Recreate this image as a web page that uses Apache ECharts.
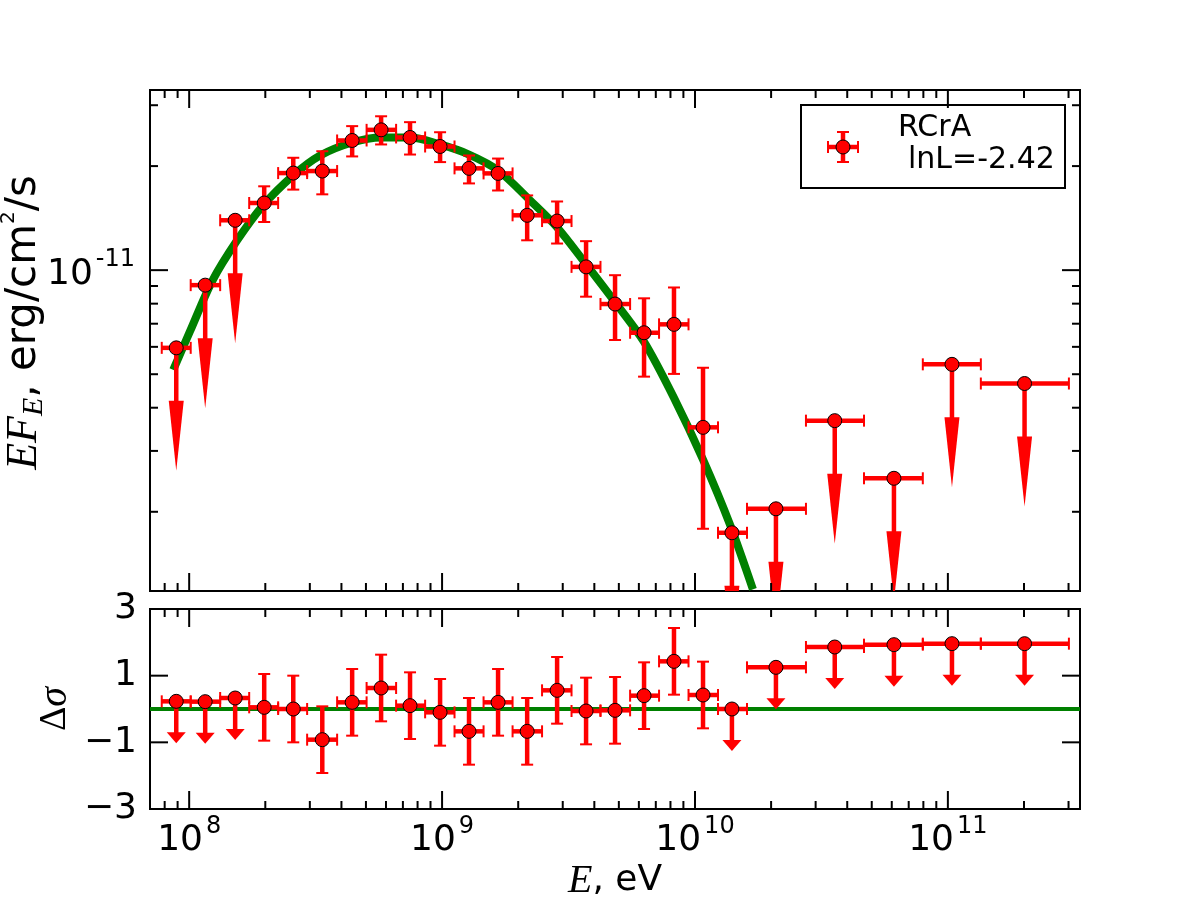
<!DOCTYPE html>
<html>
<head>
<meta charset="utf-8">
<title>RCrA spectrum</title>
<script src="https://cdn.jsdelivr.net/npm/echarts@6.0.0/dist/echarts.min.js"></script>
<style>
  html, body { margin: 0; padding: 0; background: #fff; }
  #chart { width: 1200px; height: 900px; }
</style>
</head>
<body>
<div id="chart"></div>
<script>
// energy bins, eV
const energy   = [8.89e7, 1.157e8, 1.52e8, 1.98e8, 2.58e8, 3.36e8, 4.41e8, 5.74e8, 7.47e8, 9.82e8,
                  1.278e9, 1.665e9, 2.17e9, 2.85e9, 3.71e9, 4.83e9, 6.29e9, 8.26e9, 1.076e10, 1.40e10,
                  2.09e10, 3.57e10, 6.12e10, 1.038e11, 2.01e11];
const energyLo = [7.79e7, 1.014e8, 1.326e8, 1.727e8, 2.248e8, 2.927e8, 3.846e8, 5.03e8, 6.58e8, 8.57e8,
                  1.12e9, 1.459e9, 1.90e9, 2.485e9, 3.25e9, 4.23e9, 5.54e9, 7.21e9, 9.43e9, 1.233e10,
                  1.606e10, 2.747e10, 4.66e10, 7.96e10, 1.35e11];
const energyHi = [1.014e8, 1.326e8, 1.727e8, 2.248e8, 2.927e8, 3.846e8, 5.03e8, 6.58e8, 8.57e8, 1.12e9,
                  1.459e9, 1.90e9, 2.485e9, 3.25e9, 4.23e9, 5.54e9, 7.21e9, 9.43e9, 1.233e10, 1.606e10,
                  2.747e10, 4.66e10, 7.96e10, 1.35e11, 3.01e11];

// E*F_E, erg/cm2/s  (null error = upper limit)
const flux   = [5.96e-12, 9.05e-12, 1.394e-11, 1.564e-11, 1.909e-11, 1.935e-11, 2.372e-11, 2.546e-11, 2.42e-11, 2.279e-11,
                1.97e-11, 1.905e-11, 1.441e-11, 1.387e-11, 1.022e-11, 7.98e-12, 6.59e-12, 6.97e-12, 3.51e-12, 1.739e-12,
                2.04e-12, 3.67e-12, 2.50e-12, 5.34e-12, 4.70e-12];
const fluxLo = [null, null, null, 1.378e-11, 1.71e-11, 1.657e-11, 2.133e-11, 2.31e-11, 2.16e-11, 2.054e-11,
                1.782e-11, 1.70e-11, 1.22e-11, 1.194e-11, 8.38e-12, 6.28e-12, 4.92e-12, 5.01e-12, 1.786e-12, null,
                null, null, null, null, null];
const fluxHi = [null, null, null, 1.748e-11, 2.114e-11, 2.208e-11, 2.61e-11, 2.787e-11, 2.68e-11, 2.506e-11,
                2.146e-11, 2.103e-11, 1.645e-11, 1.58e-11, 1.213e-11, 9.67e-12, 8.29e-12, 8.91e-12, 5.22e-12, null,
                null, null, null, null, null];
const upperLimit = [1, 1, 1, 0, 0, 0, 0, 0, 0, 0, 0, 0, 0, 0, 0, 0, 0, 0, 0, 1, 1, 1, 1, 1, 1];

// residuals, sigma
const resid    = [0.23, 0.22, 0.33, 0.05, 0.0, -0.92, 0.20, 0.63, 0.10, -0.10,
                  -0.67, 0.20, -0.67, 0.56, -0.06, -0.04, 0.40, 1.43, 0.42, 0.0,
                  1.25, 1.86, 1.93, 1.96, 1.96];
const residErr = [1, 1, 1, 1, 1, 1, 1, 1, 1, 1, 1, 1, 1, 1, 1, 1, 1, 1, 1, 1, 1, 1, 1, 1, 1];

// model curve
const modelE = [8.65e7, 1.009e8, 1.233e8, 1.548e8, 1.961e8, 2.577e8, 3.295e8, 4.41e8, 5.74e8, 7.47e8, 9.82e8,
                1.278e9, 1.665e9, 2.228e9, 2.85e9, 3.71e9, 4.83e9, 6.29e9, 8.26e9, 1.076e10, 1.375e10, 1.695e10];
const modelF = [5.15e-12, 6.67e-12, 9.30e-12, 1.22e-11, 1.54e-11, 1.879e-11, 2.146e-11, 2.34e-11, 2.42e-11, 2.42e-11, 2.31e-11,
                2.16e-11, 1.944e-11, 1.592e-11, 1.33e-11, 1.04e-11, 8.08e-12, 6.20e-12, 4.27e-12, 2.83e-12, 1.837e-12, 1.193e-12];

// axis ranges and ticks
const xMin = 7.0e7, xMax = 3.33e11;
const yMin = 1.18e-12, yMax = 3.32e-11;
const decadesX = [7, 8, 9, 10, 11];
const decadesY = [-12, -11];
const tickSteps = [1, 2, 3, 4, 5, 6, 7, 8, 9];
const residTicks = [-1, 1];

const RED = '#ff0000';
const GREEN = '#008000';
const SANS = '"DejaVu Sans", sans-serif';
const SERIF = '"Liberation Serif", "DejaVu Serif", serif';

function logTicks(decades, lo, hi) {
  const out = [];
  decades.forEach(d => tickSteps.forEach(m => {
    const v = m * Math.pow(10, d);
    if (v > lo * 1.001 && v < hi * 0.999) out.push([v, m === 1 ? 1 : 0]);
  }));
  return out;
}

function tickLine(x1, y1, x2, y2) {
  return { type: 'line', shape: { x1, y1, x2, y2 }, style: { stroke: '#000', lineWidth: 2 } };
}

function xTickItem(params, api) {
  const cs = params.coordSys;
  const x = api.coord([api.value(0), api.value(1)])[0];
  const len = api.value(2) ? 18 : 8;
  return { type: 'group', children: [
    tickLine(x, cs.y + cs.height, x, cs.y + cs.height - len),
    tickLine(x, cs.y, x, cs.y + len)
  ] };
}

function yTickItem(params, api) {
  const cs = params.coordSys;
  const y = api.coord([api.value(0), api.value(1)])[1];
  const len = api.value(2) ? 18 : 8;
  return { type: 'group', children: [
    tickLine(cs.x, y, cs.x + len, y),
    tickLine(cs.x + cs.width, y, cs.x + cs.width - len, y)
  ] };
}

function seg(x1, y1, x2, y2, w) {
  return { type: 'line', shape: { x1, y1, x2, y2 }, style: { stroke: RED, lineWidth: w } };
}

// error bars + upper-limit arrows; arrow = pixel sizes of the head
function errorBars(arrow) {
  return function (params, api) {
    const yv = api.value(1);
    const p = api.coord([api.value(0), yv]);
    const xl = api.coord([api.value(2), yv])[0];
    const xh = api.coord([api.value(3), yv])[0];
    const kids = [
      seg(xl, p[1], xh, p[1], 4.5),
      seg(xl, p[1] - 6, xl, p[1] + 6, 2),
      seg(xh, p[1] - 6, xh, p[1] + 6, 2)
    ];
    if (api.value(6)) {
      kids.push(seg(p[0], p[1], p[0], p[1] + arrow.head + 1, 4.5));
      kids.push({ type: 'polygon', shape: { points: [
        [p[0] - arrow.w / 2, p[1] + arrow.head],
        [p[0] + arrow.w / 2, p[1] + arrow.head],
        [p[0], p[1] + arrow.tip]
      ] }, style: { fill: RED } });
    } else {
      const yl = api.coord([api.value(0), api.value(4)])[1];
      const yh = api.coord([api.value(0), api.value(5)])[1];
      kids.push(seg(p[0], yl, p[0], yh, 4.5));
      kids.push(seg(p[0] - 6, yl, p[0] + 6, yl, 2));
      kids.push(seg(p[0] - 6, yh, p[0] + 6, yh, 2));
    }
    return { type: 'group', children: kids };
  };
}

function powLabel(v) {
  const l = Math.log10(v);
  const e = Math.round(l);
  if (Math.abs(l - e) > 1e-6) return '';
  return '{b|10}{s|' + e + '}';
}

const labelRich = {
  b: { fontFamily: SANS, fontSize: 36, lineHeight: 44, verticalAlign: 'bottom', color: '#000' },
  s: { fontFamily: SANS, fontSize: 24, lineHeight: 20, verticalAlign: 'top', color: '#000', padding: [0, 0, 0, 3] }
};

const topTable = energy.map((e, i) => [e, flux[i], energyLo[i], energyHi[i],
  fluxLo[i] == null ? flux[i] : fluxLo[i], fluxHi[i] == null ? flux[i] : fluxHi[i], upperLimit[i]]);
const botTable = energy.map((e, i) => [e, resid[i], energyLo[i], energyHi[i],
  resid[i] - residErr[i], resid[i] + residErr[i], upperLimit[i]]);

const xTicks = logTicks(decadesX, xMin, xMax);
const yTicks = logTicks(decadesY, yMin, yMax);

const chart = echarts.init(document.getElementById('chart'), null, { renderer: 'canvas' });

chart.setOption({
  animation: false,
  backgroundColor: '#fff',
  grid: [
    { left: 150, top: 90, width: 930, height: 501, show: true, borderColor: '#000', borderWidth: 2, outerBoundsMode: 'none' },
    { left: 150, top: 609, width: 930, height: 200, show: true, borderColor: '#000', borderWidth: 2, outerBoundsMode: 'none' }
  ],
  xAxis: [
    { type: 'log', gridIndex: 0, min: xMin, max: xMax,
      axisLine: { show: false }, axisTick: { show: false }, axisLabel: { show: false }, splitLine: { show: false } },
    { type: 'log', gridIndex: 1, min: xMin, max: xMax,
      axisLine: { show: false }, axisTick: { show: false }, splitLine: { show: false },
      axisLabel: { margin: 6, formatter: powLabel, rich: labelRich },
      name: '{i|E}{t|, eV}', nameLocation: 'middle', nameGap: 50, nameMoveOverlap: false,
      nameTextStyle: { rich: {
        i: { fontFamily: SERIF, fontStyle: 'italic', fontSize: 40, lineHeight: 44, color: '#000' },
        t: { fontFamily: SANS, fontSize: 36, lineHeight: 44, color: '#000' }
      } } }
  ],
  yAxis: [
    { type: 'log', gridIndex: 0, min: yMin, max: yMax,
      axisLine: { show: false }, axisTick: { show: false }, splitLine: { show: false },
      axisLabel: { margin: 15, formatter: powLabel, rich: labelRich },
      name: '{i|EF}{sub|E}{t|, erg/cm}{sup|2}{t|/s}', nameLocation: 'middle', nameGap: 101, nameRotate: 90,
      nameMoveOverlap: false,
      nameTextStyle: { padding: [0, 0, 0, 36], rich: {
        i: { fontFamily: SERIF, fontStyle: 'italic', fontSize: 44, lineHeight: 50, color: '#000' },
        sub: { fontFamily: SERIF, fontStyle: 'italic', fontSize: 30, lineHeight: 34, verticalAlign: 'bottom', color: '#000' },
        t: { fontFamily: SANS, fontSize: 42, lineHeight: 50, color: '#000' },
        sup: { fontFamily: SANS, fontSize: 20, lineHeight: 26, verticalAlign: 'top', color: '#000' }
      } } },
    { type: 'value', gridIndex: 1, min: -3, max: 3, interval: 1,
      axisLine: { show: false }, axisTick: { show: false }, splitLine: { show: false },
      axisLabel: { margin: 13, fontFamily: SANS, fontSize: 36, color: '#000',
        formatter: v => (Math.abs(v) % 2 === 1 ? (v < 0 ? '\u2212' + (-v) : String(v)) : '') },
      name: '{d|\u0394}{s|\u03c3}', nameLocation: 'middle', nameGap: 73, nameRotate: 90, nameMoveOverlap: false,
      nameTextStyle: { rich: {
        d: { fontFamily: SERIF, fontSize: 38, lineHeight: 44, color: '#000' },
        s: { fontFamily: SERIF, fontStyle: 'italic', fontSize: 40, lineHeight: 44, color: '#000' }
      } } }
  ],
  series: [
    { name: 'model', type: 'line', xAxisIndex: 0, yAxisIndex: 0, smooth: 0.3, showSymbol: false, silent: true,
      data: modelE.map((e, i) => [e, modelF[i]]),
      lineStyle: { color: GREEN, width: 8 }, z: 2 },
    { name: 'bars', type: 'custom', xAxisIndex: 0, yAxisIndex: 0, clip: true, silent: true,
      renderItem: errorBars({ head: 53, tip: 123, w: 15 }), data: topTable, z: 3 },
    { name: 'RCrA', type: 'scatter', xAxisIndex: 0, yAxisIndex: 0, symbol: 'circle', symbolSize: 14, silent: true,
      itemStyle: { color: RED, borderColor: '#000', borderWidth: 1, opacity: 1 },
      data: energy.map((e, i) => [e, flux[i]]), z: 4 },

    { name: 'zero', type: 'line', xAxisIndex: 1, yAxisIndex: 1, showSymbol: false, silent: true,
      data: [[xMin, 0], [xMax, 0]], lineStyle: { color: GREEN, width: 4 }, z: 2 },
    { name: 'residBars', type: 'custom', xAxisIndex: 1, yAxisIndex: 1, clip: true, silent: true,
      renderItem: errorBars({ head: 31, tip: 42, w: 19 }), data: botTable, z: 3 },
    { name: 'resid', type: 'scatter', xAxisIndex: 1, yAxisIndex: 1, symbol: 'circle', symbolSize: 14, silent: true,
      itemStyle: { color: RED, borderColor: '#000', borderWidth: 1, opacity: 1 },
      data: energy.map((e, i) => [e, resid[i]]), z: 4 },

    { type: 'custom', xAxisIndex: 0, yAxisIndex: 0, silent: true, renderItem: xTickItem,
      data: xTicks.map(t => [t[0], 1e-11, t[1]]), z: 10 },
    { type: 'custom', xAxisIndex: 0, yAxisIndex: 0, silent: true, renderItem: yTickItem,
      data: yTicks.map(t => [1e9, t[0], t[1]]), z: 10 },
    { type: 'custom', xAxisIndex: 1, yAxisIndex: 1, silent: true, renderItem: xTickItem,
      data: xTicks.map(t => [t[0], 0, t[1]]), z: 10 },
    { type: 'custom', xAxisIndex: 1, yAxisIndex: 1, silent: true, renderItem: yTickItem,
      data: residTicks.map(v => [1e9, v, 1]), z: 10 }
  ],
  graphic: [
    { type: 'group', z: 100, children: [
      { type: 'rect', shape: { x: 801, y: 105, width: 264, height: 83 }, style: { fill: '#fff', stroke: '#000', lineWidth: 2 } },
      { type: 'line', shape: { x1: 828, y1: 147, x2: 858, y2: 147 }, style: { stroke: RED, lineWidth: 4.5 } },
      { type: 'line', shape: { x1: 828, y1: 141, x2: 828, y2: 153 }, style: { stroke: RED, lineWidth: 2 } },
      { type: 'line', shape: { x1: 858, y1: 141, x2: 858, y2: 153 }, style: { stroke: RED, lineWidth: 2 } },
      { type: 'line', shape: { x1: 843, y1: 132, x2: 843, y2: 162 }, style: { stroke: RED, lineWidth: 4.5 } },
      { type: 'line', shape: { x1: 837, y1: 132, x2: 849, y2: 132 }, style: { stroke: RED, lineWidth: 2 } },
      { type: 'line', shape: { x1: 837, y1: 162, x2: 849, y2: 162 }, style: { stroke: RED, lineWidth: 2 } },
      { type: 'circle', shape: { cx: 843, cy: 147, r: 7 }, style: { fill: RED, stroke: '#000', lineWidth: 1 } },
      { type: 'text', x: 898, y: 128, style: { text: 'RCrA', font: '30px "DejaVu Sans"', fill: '#000', align: 'left', verticalAlign: 'middle' } },
      { type: 'text', x: 908, y: 160, style: { text: 'lnL=-2.42', font: '30px "DejaVu Sans"', fill: '#000', align: 'left', verticalAlign: 'middle' } }
    ] }
  ]
});
</script>
</body>
</html>
